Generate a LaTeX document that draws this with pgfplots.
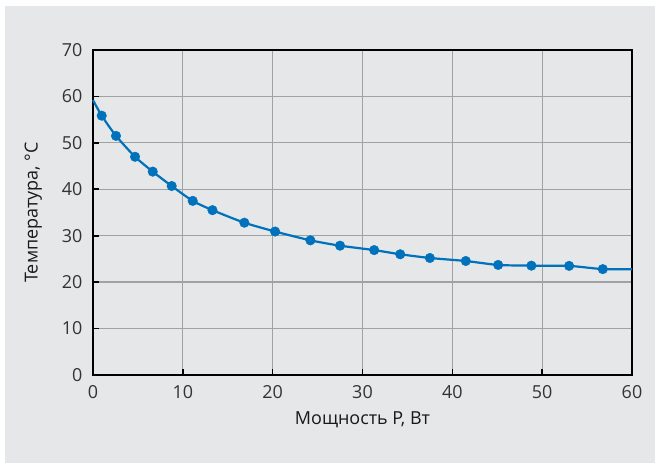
\documentclass[border=0pt]{standalone}
\usepackage{pgfplots}
\pgfplotsset{compat=1.18}
\usepackage{fontspec}
\setmainfont{Open Sans}
\definecolor{bgc}{HTML}{E6E7E9}
\definecolor{lc}{HTML}{0072BC}
\definecolor{gc}{HTML}{A0A1A3}
\definecolor{tc}{HTML}{333333}
\begin{document}
\begin{tikzpicture}[x=1bp,y=1bp]
\path[use as bounding box] (-93,-88) rectangle (562,375);
\fill[bgc] (-88,-88) rectangle (562,369);
\begin{axis}[
  anchor=origin, at={(0,0)},
  x=8.983bp, y=4.643bp,
  xmin=0, xmax=60, ymin=0, ymax=70,
  xtick={0,10,...,60}, ytick={0,10,...,70},
  grid=major,
  major grid style={gc, line width=1.3bp},
  axis line style={black, line width=1.6bp},
  tick style={black, line width=1.6bp},
  major tick length=6bp,
  tick align=inside,
  xtick pos=bottom, ytick pos=left,
  font=\fontsize{18}{21}\selectfont,
  ticklabel style={text=tc, font=\fontsize{18}{21}\selectfont},
  /pgf/number format/assume math mode=true,
  xticklabel style={yshift=-7bp},
  yticklabel style={xshift=-7bp},
  xlabel={Мощность P, Вт},
  ylabel={Температура, °C},
  xlabel style={at={(axis description cs:0.5,-0.138)}, anchor=center, text=black!90},
  ylabel style={at={(axis description cs:-0.111,0.5)}, anchor=center, text=black!90},
  clip=false,
]
\addplot[lc, line width=2.2bp, smooth, tension=0.4] coordinates {
(0,59.2) (0.97,55.85) (2.56,51.5) (4.68,47.0) (6.65,43.8) (8.76,40.7) (11.1,37.5) (13.3,35.5) (16.85,32.8) (20.27,30.9) (24.2,29.0) (27.5,27.85) (31.3,26.9) (34.2,26.0) (37.5,25.2) (41.5,24.55) (45.1,23.7) (48.8,23.55) (53.0,23.5) (56.75,22.8) (60,22.77)
};
\addplot[only marks, mark=*, mark size=4.8bp, mark options={fill=lc, draw=lc}] coordinates {
(0.97,55.85) (2.56,51.5) (4.68,47.0) (6.65,43.8) (8.76,40.7) (11.1,37.5) (13.3,35.5) (16.85,32.8) (20.27,30.9) (24.2,29.0) (27.5,27.85) (31.3,26.9) (34.2,26.0) (37.5,25.2) (41.5,24.55) (45.1,23.7) (48.8,23.55) (53.0,23.5) (56.75,22.8)
};
\end{axis}
\end{tikzpicture}
\end{document}
